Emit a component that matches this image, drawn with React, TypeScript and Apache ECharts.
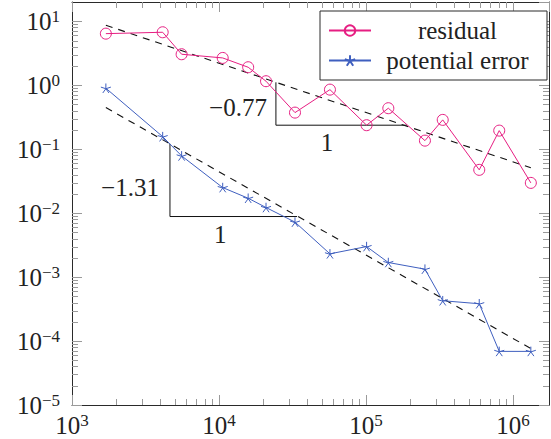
import React, { useEffect, useRef } from 'react';
import * as echarts from 'echarts';

// ---- data ----
const nodes = [1700, 4140, 5570, 10600, 15800, 20900, 32900, 56900, 101000, 142000, 252000, 333000, 590000, 807000, 1324000];
const residual = [6.4, 6.73, 3.05, 2.67, 1.91, 1.155, 0.373, 0.853, 0.237, 0.437, 0.136, 0.287, 0.0475, 0.195, 0.0297];
const potentialError = [0.897, 0.157, 0.0785, 0.0251, 0.0171, 0.01224, 0.00724, 0.00231, 0.003, 0.00169, 0.00133, 0.000427, 0.000383, 0.0000689, 0.0000689];

const residualFitX = [1700, 1324000];
const residualFitY = [8.66, 0.0511];
const potentialFitX = [1700, 1324000];
const potentialFitY = [0.447, 0.0000764];

const residualTriangleX = [24400, 24400, 190000];
const residualTriangleY = [1.11, 0.237, 0.237];
const potentialTriangleX = [4640, 4640, 34000];
const potentialTriangleY = [0.121, 0.00885, 0.00885];

const slopeLabels = ['\u22120.77', '\u22121.31'];
const runLabel = '1';
const residualSlopeAt = [24400, 0.441];
const residualRunAt = [54300, 0.237];
const potentialSlopeAt = [4640, 0.0248];
const potentialRunAt = [10200, 0.00885];

const seriesNames = ['residual', 'potential error'];

const X_MIN = 1000;
const X_MAX = 1760000;
const Y_MIN = 0.00001;
const Y_MAX = 20;

// ---- styles ----
const FONT = 'Liberation Serif';
const TEXT = '#222';
const PINK = '#e61e82';
const BLUE = '#3f5fbf';
const FRAME = '#2a2a2a';
const TICK = '#9a9a9a';
const STAR = 'path://M0 0L0 -100M0 0L-95.1 -30.9M0 0L-58.8 80.9M0 0L58.8 80.9M0 0L95.1 -30.9';

const zip = (xs: number[], ys: number[]) => xs.map((x, i) => [x, ys[i]]);

function minorTicks(e0: number, e1: number, lo: number, hi: number) {
  const out: number[] = [];
  for (let e = e0; e <= e1; e++) {
    for (let m = 2; m <= 9; m++) {
      const v = m * Math.pow(10, e);
      if (v > lo && v < hi) out.push(v);
    }
  }
  return out;
}

const powLabel = (value: number) => {
  const e = Math.round(Math.log10(value));
  const s = e < 0 ? '\u2212' + Math.abs(e) : String(e);
  return '{b|10}{s|' + s + '}';
};

const labelRich = {
  b: { fontFamily: FONT, fontSize: 25, lineHeight: 26, color: TEXT },
  s: { fontFamily: FONT, fontSize: 17, lineHeight: 15, verticalAlign: 'top', color: TEXT },
};

export default function App() {
  const ref = useRef<HTMLDivElement>(null);
  useEffect(() => {
    if (!ref.current) return;
    const chart = echarts.init(ref.current, undefined, { renderer: 'svg' });

    const xMinor = minorTicks(3, 6, X_MIN, X_MAX);
    const yMinor = minorTicks(-5, 1, Y_MIN, Y_MAX);

    const axisLine = { show: true, onZero: false, lineStyle: { color: FRAME, width: 1 } };
    const majorTick = { show: true, inside: true, length: 10, lineStyle: { color: TICK, width: 1 } };

    const tickStyle = { stroke: TICK, lineWidth: 1 };

    const option: any = {
      animation: false,
      backgroundColor: '#fff',
      textStyle: { fontFamily: FONT },
      grid: { left: 72, right: 2, top: 2, bottom: 34, containLabel: false, outerBoundsMode: 'none' },
      legend: {
        data: seriesNames,
        orient: 'vertical',
        right: 4,
        top: 11,
        padding: [7, 8, 7, 8],
        itemGap: 5,
        itemWidth: 42,
        itemHeight: 13,
        borderColor: FRAME,
        borderWidth: 1,
        borderRadius: 0,
        backgroundColor: '#fff',
        selectedMode: false,
        formatter: (name: string) => '{t|' + name + '}',
        textStyle: {
          fontFamily: FONT,
          fontSize: 25,
          rich: {
            t: { width: 163, align: 'center', fontFamily: FONT, fontSize: 25, lineHeight: 26, color: TEXT },
          },
        },
      },
      xAxis: [
        {
          type: 'log', logBase: 10, min: X_MIN, max: X_MAX, position: 'bottom',
          axisLine, axisTick: majorTick, splitLine: { show: false }, minorTick: { show: false },
          axisLabel: { formatter: powLabel, fontFamily: FONT, rich: labelRich, margin: 7, showMaxLabel: false, showMinLabel: true },
        },
        {
          type: 'log', logBase: 10, min: X_MIN, max: X_MAX, position: 'top',
          axisLine, axisTick: majorTick, splitLine: { show: false }, axisLabel: { show: false },
        },
      ],
      yAxis: [
        {
          type: 'log', logBase: 10, min: Y_MIN, max: Y_MAX, position: 'left',
          axisLine, axisTick: majorTick, splitLine: { show: false },
          axisLabel: { formatter: powLabel, fontFamily: FONT, rich: labelRich, margin: 12, showMaxLabel: false, align: 'right' },
        },
        {
          type: 'log', logBase: 10, min: Y_MIN, max: Y_MAX, position: 'right',
          axisLine, axisTick: majorTick, splitLine: { show: false }, axisLabel: { show: false },
        },
      ],
      series: [
        {
          type: 'custom', name: 'xMinorTicks', silent: true, clip: false, z: 1,
          data: xMinor.map((v) => [v, Y_MIN]),
          renderItem: (_p: any, api: any) => {
            const v = api.value(0);
            const b = api.coord([v, Y_MIN]);
            const t = api.coord([v, Y_MAX]);
            const x = Math.round(b[0]) + 0.5;
            return {
              type: 'group',
              children: [
                { type: 'line', shape: { x1: x, y1: b[1], x2: x, y2: b[1] - 6 }, style: tickStyle },
                { type: 'line', shape: { x1: x, y1: t[1], x2: x, y2: t[1] + 6 }, style: tickStyle },
              ],
            };
          },
        },
        {
          type: 'custom', name: 'yMinorTicks', silent: true, clip: false, z: 1,
          data: yMinor.map((v) => [X_MIN, v]),
          renderItem: (_p: any, api: any) => {
            const v = api.value(1);
            const l = api.coord([X_MIN, v]);
            const r = api.coord([X_MAX, v]);
            const y = Math.round(l[1]) + 0.5;
            return {
              type: 'group',
              children: [
                { type: 'line', shape: { x1: l[0], y1: y, x2: l[0] + 6, y2: y }, style: tickStyle },
                { type: 'line', shape: { x1: r[0], y1: y, x2: r[0] - 6, y2: y }, style: tickStyle },
              ],
            };
          },
        },
        {
          type: 'line', name: 'residual fit', data: zip(residualFitX, residualFitY),
          symbol: 'none', silent: true, z: 2,
          lineStyle: { color: '#111', width: 1.1, type: [7, 6] },
        },
        {
          type: 'line', name: 'potential fit', data: zip(potentialFitX, potentialFitY),
          symbol: 'none', silent: true, z: 2,
          lineStyle: { color: '#111', width: 1.1, type: [7, 6] },
        },
        {
          type: 'line', name: 'residual slope', data: zip(residualTriangleX, residualTriangleY),
          symbol: 'none', silent: true, z: 2,
          lineStyle: { color: '#111', width: 1 },
          markPoint: {
            symbol: 'circle', symbolSize: 0, silent: true, animation: false,
            label: { show: true, fontFamily: FONT, fontSize: 25, color: TEXT },
            data: [
              { coord: residualSlopeAt, label: { formatter: slopeLabels[0], position: 'left', distance: 9 } },
              { coord: residualRunAt, label: { formatter: runLabel, position: 'bottom', distance: 5 } },
            ],
          },
        },
        {
          type: 'line', name: 'potential slope', data: zip(potentialTriangleX, potentialTriangleY),
          symbol: 'none', silent: true, z: 2,
          lineStyle: { color: '#111', width: 1 },
          markPoint: {
            symbol: 'circle', symbolSize: 0, silent: true, animation: false,
            label: { show: true, fontFamily: FONT, fontSize: 25, color: TEXT },
            data: [
              { coord: potentialSlopeAt, label: { formatter: slopeLabels[1], position: 'left', distance: 11 } },
              { coord: potentialRunAt, label: { formatter: runLabel, position: 'bottom', distance: 5 } },
            ],
          },
        },
        {
          type: 'line', name: seriesNames[0], data: zip(nodes, residual),
          color: PINK, z: 3,
          symbol: 'circle', symbolSize: 11,
          itemStyle: { color: 'none', borderColor: PINK, borderWidth: 1 },
          lineStyle: { color: PINK, width: 1 },
        },
        {
          type: 'line', name: seriesNames[1], data: zip(nodes, potentialError),
          color: BLUE, z: 3,
          symbol: STAR, symbolSize: 10, symbolKeepAspect: true,
          itemStyle: { color: 'none', borderColor: BLUE, borderWidth: 1 },
          lineStyle: { color: BLUE, width: 1 },
        },
      ],
    };
    chart.setOption(option);
    return () => chart.dispose();
  }, []);

  return <div ref={ref} style={{ position: 'fixed', left: 0, top: 0, width: 551, height: 439 }} />;
}
